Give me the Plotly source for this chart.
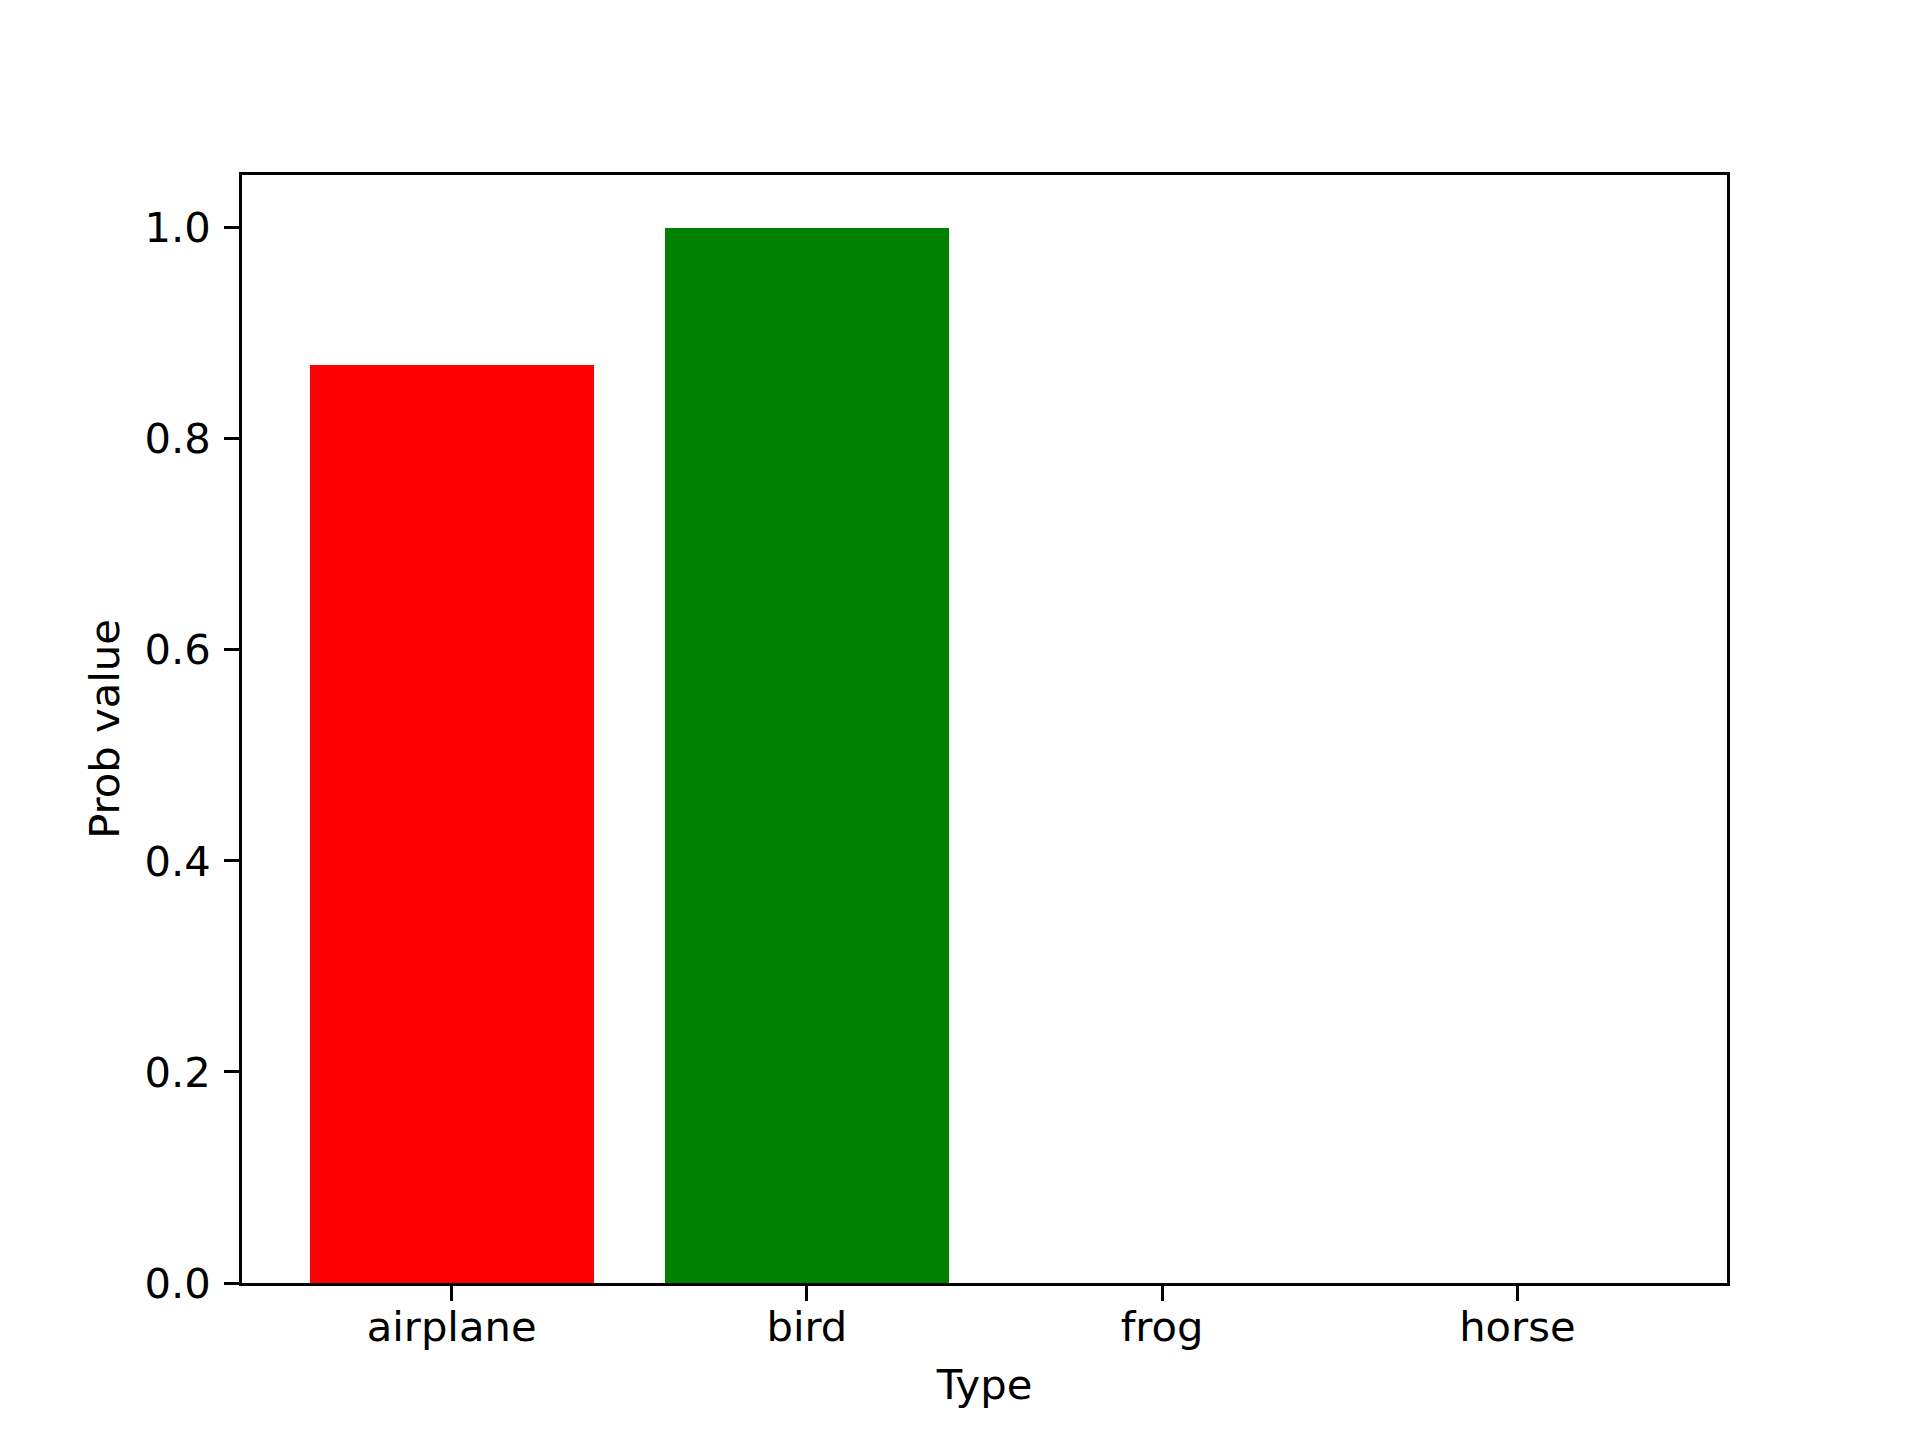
import plotly.graph_objects as go

categories = ["airplane", "bird", "frog", "horse"]
prob_values = [0.87, 1.0, 0.0, 0.0]
bar_colors = ["red", "green", "blue", "yellow"]
y_ticks = [0.0, 0.2, 0.4, 0.6, 0.8, 1.0]

W, H = 1920, 1440
font_px = 41.7  # 10pt at 300 dpi

fig = go.Figure(
    go.Bar(
        x=list(range(len(categories))),
        y=prob_values,
        width=0.8,
        marker=dict(color=bar_colors, line=dict(width=0)),
    )
)

axis_common = dict(
    showline=True,
    linecolor="black",
    linewidth=3.3,
    mirror=True,
    ticks="outside",
    ticklen=14.6,
    tickwidth=3.3,
    tickcolor="black",
    showgrid=False,
    zeroline=False,
    tickfont=dict(size=font_px, color="black"),
)

fig.update_layout(
    width=W,
    height=H,
    margin=dict(l=234, r=201, t=167, b=165),
    plot_bgcolor="white",
    paper_bgcolor="white",
    font=dict(family="DejaVu Sans", size=font_px, color="black"),
    showlegend=False,
    bargap=0,
    xaxis=dict(
        axis_common,
        range=[-0.59, 3.59],
        tickmode="array",
        tickvals=list(range(len(categories))),
        ticktext=categories,
        ticklabelstandoff=-10,
        title=dict(text="Type", font=dict(size=font_px), standoff=21),
    ),
    yaxis=dict(
        axis_common,
        range=[0, 1.05],
        tickmode="array",
        tickvals=y_ticks,
        ticktext=[f"{v:.1f}" for v in y_ticks],
        ticklabelstandoff=5,
        title=dict(text="Prob value", font=dict(size=font_px), standoff=13),
    ),
)

fig.write_html("out.html")
